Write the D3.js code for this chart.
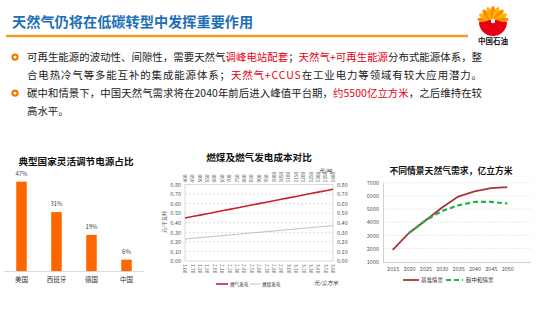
<!DOCTYPE html>
<html><head><meta charset="utf-8">
<script src="https://cdn.jsdelivr.net/npm/d3@7"></script>
<style>body{margin:0;background:#fff}svg{display:block}text{font-family:"Noto Sans CJK SC","Noto Sans",sans-serif}</style>
</head><body><svg id="c" width="554" height="315"></svg>
<script>
// ---------- data ----------
const pageTitle = "天然气仍将在低碳转型中发挥重要作用";
const logoText = "中国石油";
// each bullet line: list of [text, isRed]
const line1 = [["可再生能源的波动性、间隙性，需要天然气",0],["调峰电站配套",1],["；",0],["天然气+可再生能源",1],["分布式能源体系，整",0]];
const line2 = [["合电热冷气等多能互补的集成能源体系；",0],["天然气+CCUS",1],["在工业电力等领域有较大应用潜力。",0]];
const line3 = [["碳中和情景下，中国天然气需求将在2040年前后进入峰值平台期，",0],["约5500亿立方米",1],["，之后维持在较",0]];
const line4 = [["高水平。",0]];

const shareTitle = "典型国家灵活调节电源占比";
const shareCategories = ["美国","西班牙","德国","中国"];
const shareValues = [47,31,19,6];

const costTitle = "燃煤及燃气发电成本对比";
const coalPriceTicks = ["400","450","500","550","600","650","700","750","800","850","900","950","1000","1050","1100","1150","1200","1250","1300","1350","1400"];
const gasPriceTicks = ["1.60","1.70","1.80","1.90","2.00","2.10","2.20","2.30","2.40","2.50","2.60","2.70","2.80","2.90","3.00","3.10","3.20","3.30","3.40","3.50","3.60"];
const gasPowerCost = [0.450,0.465,0.480,0.495,0.510,0.525,0.540,0.555,0.570,0.585,0.600,0.615,0.630,0.645,0.660,0.675,0.690,0.705,0.720,0.735,0.750];
const coalPowerCost = [0.230,0.237,0.244,0.251,0.258,0.265,0.272,0.279,0.286,0.293,0.300,0.307,0.314,0.321,0.328,0.335,0.342,0.349,0.356,0.363,0.370];
const costTicks = [0,0.1,0.2,0.3,0.4,0.5,0.6,0.7,0.8];
const costSeriesNames = ["燃气发电","燃煤发电"];
const costUnitTop = "元/吨", costUnitBottom = "元/立方米", costUnitLeft = "元/千瓦时";

const demandTitle = "不同情景天然气需求，亿立方米";
const demandYears = [2015,2020,2025,2030,2035,2040,2045,2050];
const baseDemand = [1900,3180,4130,5100,5950,6340,6590,6670];
const neutralDemand = [null,3180,4130,4850,5280,5540,5540,5420];
const demandTicks = [1000,2000,3000,4000,5000,6000,7000];
const demandSeriesNames = ["基准情景","碳中和情景"];

// ---------- drawing ----------
const svg = d3.select("#c");
const RED = "#e60012";

// header
svg.append("text").attr("x",12).attr("y",27).attr("font-size",14.2).attr("font-weight",700)
  .attr("fill","#1d6fb8").text(pageTitle);
svg.append("line").attr("x1",6).attr("x2",468).attr("y1",36).attr("y2",36)
  .attr("stroke","#f39a2b").attr("stroke-width",2.5);

// logo
const logo = svg.append("g").attr("transform","translate(493,22)");
d3.range(9).forEach(i=>{
  const a = -180 + 10 + i*20;
  logo.append("ellipse").attr("cx",0).attr("cy",-8).attr("rx",2.6).attr("ry",8)
    .attr("transform",`rotate(${a+90})`).attr("fill", i%2? "#ffb400":"#ff8a00");
});
logo.append("path").attr("d","M-14,0 A14,14 0 0,0 14,0 L9,0 Q0,-5 -9,0 Z").attr("fill","#e60012");
logo.append("circle").attr("r",2.2).attr("cy",-1).attr("fill","#fff");
svg.append("text").attr("x",493).attr("y",44).attr("text-anchor","middle").attr("font-size",7.5)
  .attr("font-weight",700).attr("fill","#111").text(logoText);

// bullets
const lines = [line1,line2,line3,line4];
const lineY = [61,79,97,115];
const bulletOn = [true,false,true,false];
lines.forEach((ln,i)=>{
  if(bulletOn[i]){
    svg.append("circle").attr("cx",15).attr("cy",lineY[i]-3.8).attr("r",3.6).attr("fill","#f07800");
    svg.append("circle").attr("cx",15).attr("cy",lineY[i]-3.8).attr("r",1.4).attr("fill","#fff");
  }
  const t = svg.append("text").attr("x",27).attr("y",lineY[i]).attr("font-size",10.4).attr("fill","#1a1a1a");
  if(i<3) t.attr("textLength",455).attr("lengthAdjust","spacing");
  ln.forEach(([s,r])=>t.append("tspan").attr("fill",r?RED:"#1a1a1a").text(s));
});

// ----- left chart -----
{
  const x = d3.scaleBand().domain(shareCategories).range([4,144]).paddingInner(0.7).paddingOuter(0.35);
  const y = d3.scaleLinear().domain([0,50]).range([271,176]);
  const g = svg.append("g");
  g.append("text").attr("x",76).attr("y",165).attr("text-anchor","middle").attr("font-size",9.6)
    .attr("font-weight",700).attr("fill","#111").text(shareTitle);
  g.selectAll("rect").data(shareValues).join("rect")
    .attr("x",(d,i)=>x(shareCategories[i])).attr("width",x.bandwidth())
    .attr("y",d=>y(d)).attr("height",d=>y(0)-y(d)).attr("fill","#ff6600");
  g.selectAll("text.v").data(shareValues).join("text").attr("class","v")
    .attr("x",(d,i)=>x(shareCategories[i])+x.bandwidth()/2).attr("y",d=>y(d)-6)
    .attr("text-anchor","middle").attr("font-size",6).attr("fill","#444").text(d=>d+"%");
  const ax = g.append("g").attr("transform","translate(0,271)")
    .call(d3.axisBottom(x).tickSize(0).tickPadding(6));
  ax.select(".domain").attr("stroke","#d9d9d9").attr("d","M4,0.5H144");
  ax.selectAll("text").attr("font-size",6.5).attr("fill","#333").attr("font-family",'"Noto Sans CJK SC"');
}

// ----- middle chart -----
{
  const idx = d3.range(gasPowerCost.length);
  const x = d3.scalePoint().domain(idx).range([185,333]);
  const y = d3.scaleLinear().domain([0,0.8]).range([261,184.5]);
  const g = svg.append("g");
  g.append("text").attr("x",259).attr("y",161).attr("text-anchor","middle").attr("font-size",9.6)
    .attr("font-weight",700).attr("fill","#111").text(costTitle);
  g.selectAll("line.gr").data(costTicks.slice(1,-1)).join("line").attr("class","gr")
    .attr("x1",185).attr("x2",333).attr("y1",d=>y(d)).attr("y2",d=>y(d))
    .attr("stroke","#c8c8c8").attr("stroke-width",0.6).attr("stroke-dasharray","2,2");
  g.append("rect").attr("x",185).attr("y",y(0.8)).attr("width",148).attr("height",y(0)-y(0.8))
    .attr("fill","none").attr("stroke","#d0d0d0").attr("stroke-width",0.8);
  const ay = g.append("g").attr("transform","translate(333,0)")
    .call(d3.axisRight(y).tickValues(costTicks).tickFormat(d3.format(".2f")).tickSize(0).tickPadding(4));
  ay.select(".domain").remove();
  ay.selectAll("text").attr("font-size",5.5).attr("fill","#555");
  const ayl = g.append("g").attr("transform","translate(185,0)")
    .call(d3.axisLeft(y).tickValues(costTicks).tickFormat(d3.format(".2f")).tickSize(0).tickPadding(4));
  ayl.select(".domain").remove();
  ayl.selectAll("text").attr("font-size",5.5).attr("fill","#555");
  g.append("text").attr("transform","translate(166,222) rotate(-90)").attr("text-anchor","middle")
    .attr("font-size",5).attr("fill","#555").text(costUnitLeft);
  g.selectAll("text.tt").data(coalPriceTicks).join("text").attr("class","tt")
    .attr("transform",(d,i)=>`translate(${x(i)+1.8},182.5) rotate(-90)`)
    .attr("font-size",4.8).attr("fill","#666").text(d=>d);
  g.selectAll("text.bt").data(gasPriceTicks).join("text").attr("class","bt")
    .attr("transform",(d,i)=>`translate(${x(i)-1.8},264) rotate(90)`)
    .attr("font-size",4.8).attr("fill","#666").text(d=>d);
  g.append("text").attr("x",332).attr("y",173).attr("text-anchor","end").attr("font-size",5.5)
    .attr("font-style","italic").attr("fill","#333").text(costUnitTop);
  g.append("text").attr("x",338).attr("y",285).attr("text-anchor","end").attr("font-size",5.5)
    .attr("font-style","italic").attr("fill","#333").text(costUnitBottom);
  const line = d3.line().x((d,i)=>x(i)).y(d=>y(d));
  g.append("path").datum(coalPowerCost).attr("d",line).attr("fill","none").attr("stroke","#c0c0c0").attr("stroke-width",1);
  g.append("path").datum(gasPowerCost).attr("d",line).attr("fill","none").attr("stroke","#c8202c").attr("stroke-width",1.6);
  g.append("line").attr("x1",216).attr("x2",228).attr("y1",284).attr("y2",284).attr("stroke","#c8202c").attr("stroke-width",1.6);
  g.append("text").attr("x",230).attr("y",286).attr("font-size",4.6).attr("fill","#333").text(costSeriesNames[0]);
  g.append("line").attr("x1",250).attr("x2",260).attr("y1",284).attr("y2",284).attr("stroke","#c0c0c0").attr("stroke-width",1);
  g.append("text").attr("x",262).attr("y",286).attr("font-size",4.6).attr("fill","#333").text(costSeriesNames[1]);
}

// ----- right chart -----
{
  const x = d3.scalePoint().domain(demandYears).range([392.7,507.3]);
  const y = d3.scaleLinear().domain([1000,7000]).range([261.7,182.7]);
  const g = svg.append("g");
  g.append("text").attr("x",451).attr("y",174).attr("text-anchor","middle").attr("font-size",8.8)
    .attr("font-weight",700).attr("fill","#111").text(demandTitle);
  g.selectAll("line.gr").data(demandTicks.slice(1)).join("line").attr("class","gr")
    .attr("x1",383).attr("x2",531).attr("y1",d=>y(d)).attr("y2",d=>y(d))
    .attr("stroke","#d4d4d4").attr("stroke-width",0.6).attr("stroke-dasharray","1.5,1.5");
  const ay = g.append("g").attr("transform","translate(383,0)")
    .call(d3.axisLeft(y).tickValues(demandTicks).tickFormat(d3.format("d")).tickSize(0).tickPadding(4));
  ay.select(".domain").attr("stroke","#d0d0d0");
  ay.selectAll("text").attr("font-size",5.5).attr("fill","#555");
  const ax = g.append("g").attr("transform","translate(0,262)")
    .call(d3.axisBottom(x).tickFormat(d3.format("d")).tickSize(0).tickPadding(5));
  ax.select(".domain").attr("stroke","#d0d0d0").attr("d","M383,0.5H531");
  ax.selectAll("text").attr("font-size",5.5).attr("fill","#555");
  const line = d3.line().defined(d=>d!=null).x((d,i)=>x(demandYears[i])).y(d=>y(d));
  g.append("path").datum(baseDemand).attr("d",line).attr("fill","none").attr("stroke","#a9343a").attr("stroke-width",1.8);
  g.append("path").datum(neutralDemand).attr("d",line).attr("fill","none").attr("stroke","#22b14c")
    .attr("stroke-width",2.2).attr("stroke-dasharray","5,3");
  g.append("line").attr("x1",403).attr("x2",419).attr("y1",280).attr("y2",280).attr("stroke","#a9343a").attr("stroke-width",1.8);
  g.append("text").attr("x",421).attr("y",282).attr("font-size",5.5).attr("fill","#333").text(demandSeriesNames[0]);
  g.append("line").attr("x1",446).attr("x2",463).attr("y1",280).attr("y2",280).attr("stroke","#22b14c")
    .attr("stroke-width",2.2).attr("stroke-dasharray","5,3");
  g.append("text").attr("x",466).attr("y",282).attr("font-size",5.5).attr("fill","#333").text(demandSeriesNames[1]);
}
</script></body></html>
